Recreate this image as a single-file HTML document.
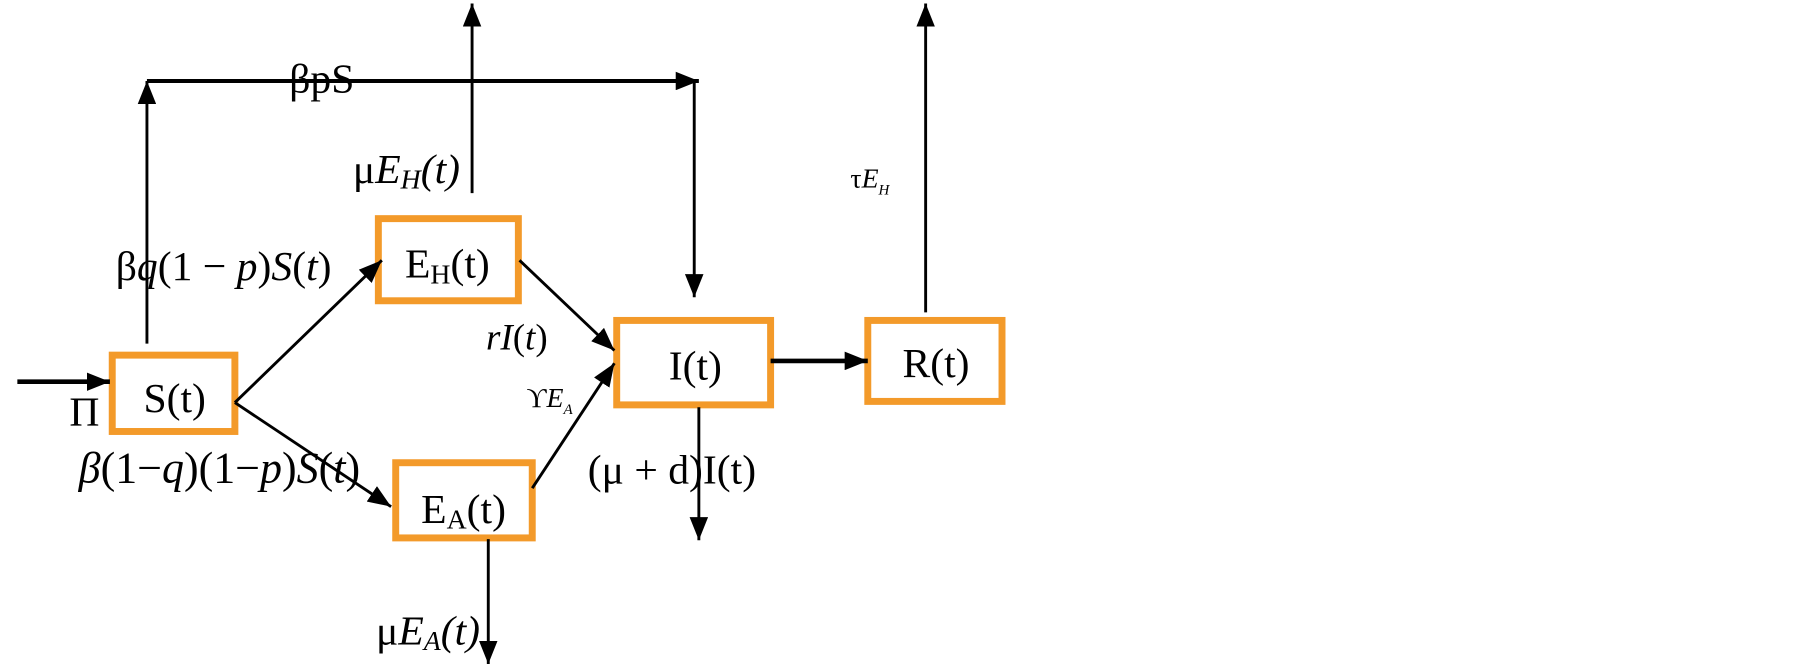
<!DOCTYPE html>
<html><head><meta charset="utf-8"><style>
html,body{margin:0;padding:0;background:#fff;width:1805px;height:664px;overflow:hidden}
svg{display:block}
text{font-family:"Liberation Serif",serif;fill:#000}
</style></head><body>
<svg width="1805" height="664" viewBox="0 0 1560 574" preserveAspectRatio="none" xmlns="http://www.w3.org/2000/svg">
<defs>
<marker id="b" viewBox="0 0 10 10" refX="10" refY="5" markerWidth="20" markerHeight="16" markerUnits="userSpaceOnUse" orient="auto" preserveAspectRatio="none"><path d="M0,0L10,5L0,10z" fill="#000"/></marker>
</defs>
<g fill="none" stroke="#F39A2A" stroke-width="6">
<rect x="97" y="307" width="106" height="66"/>
<rect x="327" y="189" width="121" height="71"/>
<rect x="342" y="400" width="118" height="65"/>
<rect x="533" y="277" width="133" height="73"/>
<rect x="750" y="277" width="116" height="70"/>
</g>
<g stroke="#000" stroke-width="2.5" fill="none">
<line x1="15" y1="330" x2="95" y2="330" stroke-width="4" marker-end="url(#b)"/>
<line x1="127" y1="297" x2="127" y2="70" marker-end="url(#b)"/>
<line x1="127" y1="70" x2="604" y2="70" stroke-width="3.5" marker-end="url(#b)"/>
<line x1="600" y1="70" x2="600" y2="257" marker-end="url(#b)"/>
<line x1="408" y1="167" x2="408" y2="3" marker-end="url(#b)"/>
<line x1="800" y1="270" x2="800" y2="3" marker-end="url(#b)"/>
<line x1="203" y1="348" x2="330" y2="225" marker-end="url(#b)"/>
<line x1="203" y1="348" x2="338" y2="438" marker-end="url(#b)"/>
<line x1="449" y1="225" x2="531" y2="303" marker-end="url(#b)"/>
<line x1="460" y1="422" x2="531" y2="314" marker-end="url(#b)"/>
<line x1="666" y1="312" x2="750" y2="312" stroke-width="4" marker-end="url(#b)"/>
<line x1="604" y1="352" x2="604" y2="467" marker-end="url(#b)"/>
<line x1="422" y1="466" x2="422" y2="574" marker-end="url(#b)"/>
</g>
<g font-size="36">
<text x="124" y="356">S(t)</text>
<text x="350" y="240">E<tspan font-size="24" dy="5">H</tspan><tspan dy="-5">(t)</tspan></text>
<text x="364" y="452">E<tspan font-size="24" dy="5">A</tspan><tspan dy="-5">(t)</tspan></text>
<text x="578" y="328">I(t)</text>
<text x="780" y="326">R(t)</text>
<text x="250" y="80">βpS</text>
<text x="305" y="158">μ<tspan font-style="italic">E<tspan font-size="24" dy="5">H</tspan><tspan dy="-5">(t)</tspan></tspan></text>
<text x="100" y="242">β<tspan font-style="italic">q</tspan>(1 − <tspan font-style="italic">p</tspan>)<tspan font-style="italic">S</tspan>(<tspan font-style="italic">t</tspan>)</text>
<text x="420" y="302" font-size="32"><tspan font-style="italic">rI</tspan>(<tspan font-style="italic">t</tspan>)</text>
<text x="60" y="368">Π</text>
<text x="68" y="417" font-size="38"><tspan font-style="italic">β</tspan>(1−<tspan font-style="italic">q</tspan>)(1−<tspan font-style="italic">p</tspan>)<tspan font-style="italic">S</tspan>(<tspan font-style="italic">t</tspan>)</text>
<text x="508" y="418">(μ + d)I(t)</text>
<text x="325" y="557">μ<tspan font-style="italic">E<tspan font-size="24" dy="5">A</tspan><tspan dy="-5">(t)</tspan></tspan></text>
</g>
<text x="455" y="352" font-size="24">ϒ<tspan font-style="italic">E</tspan><tspan font-size="13" font-style="italic" dy="6">A</tspan></text>
<text x="735" y="162" font-size="24">τ<tspan font-style="italic">E</tspan><tspan font-size="13" font-style="italic" dy="6">H</tspan></text>
</svg>
</body></html>
